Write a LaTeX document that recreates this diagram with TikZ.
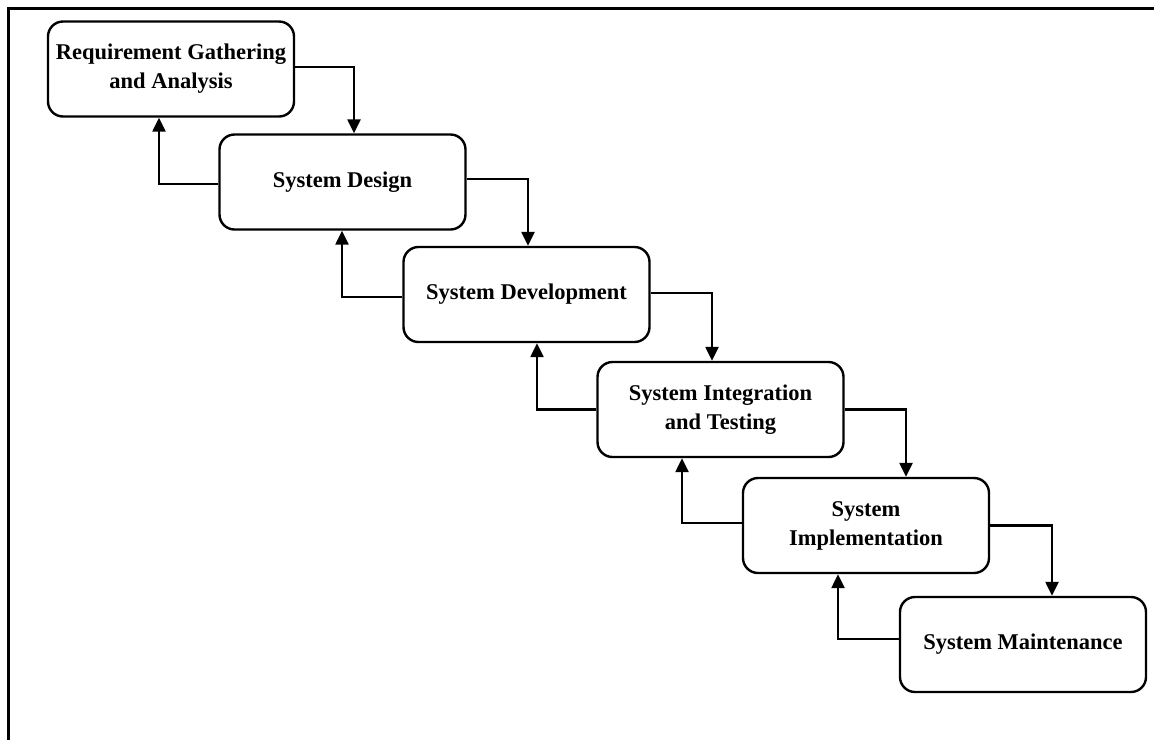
\documentclass[tikz,border=0pt]{standalone}
\usepackage{fontspec}
\setmainfont{Liberation Serif}
\usetikzlibrary{arrows.meta}
\begin{document}
\begin{tikzpicture}[x=1pt,y=-1pt,
  stage/.style={draw=black, line width=2.4pt, rounded corners=15pt, fill=white,
    minimum width=246pt, minimum height=95pt, inner sep=0pt, align=center,
    font=\fontsize{22.5}{29}\selectfont\bfseries},
  arr/.style={line width=2.4pt, -{Triangle[width=13pt,length=14pt]}},
  frame/.style={line width=3pt, black}]
\useasboundingbox (0,0) rectangle (1154,740);
\coordinate (fo) at (8,8);
\coordinate (fr) at (1154,8);
\coordinate (fb) at (8,740);
\draw[frame] (fr) -- (fo) -- (fb);

\node[stage] (n1) at (171,69)    {Requirement Gathering\\and Analysis};
\node[stage] (n2) at (342.5,182) {System Design};
\node[stage] (n3) at (526.5,294.5) {System Development};
\node[stage] (n4) at (720.5,409.5) {System Integration\\and Testing};
\node[stage] (n5) at (866,525.5) {System\\Implementation};
\node[stage] (n6) at (1023,644.5) {System Maintenance};

% forward (down) arrows
\draw[arr] ([yshift=2pt]n1.east) -| ([xshift=11.5pt]n2.north);
\draw[arr] ([yshift=3pt]n2.east) -| ([xshift=1.5pt]n3.north);
\draw[arr] ([yshift=1.5pt]n3.east) -| ([xshift=-8.5pt]n4.north);
\draw[arr] (n4.east) -| ([xshift=40pt]n5.north);
\draw[arr] (n5.east) -| ([xshift=29pt]n6.north);

% backward (up) arrows
\draw[arr] ([yshift=-2pt]n2.west) -| ([xshift=-12pt]n1.south);
\draw[arr] ([yshift=-2.5pt]n3.west) -| ([xshift=-0.5pt]n2.south);
\draw[arr] (n4.west) -| ([xshift=10.5pt]n3.south);
\draw[arr] ([yshift=2.5pt]n5.west) -| ([xshift=-38.5pt]n4.south);
\draw[arr] ([yshift=5.5pt]n6.west) -| ([xshift=-28pt]n5.south);
\end{tikzpicture}
\end{document}
